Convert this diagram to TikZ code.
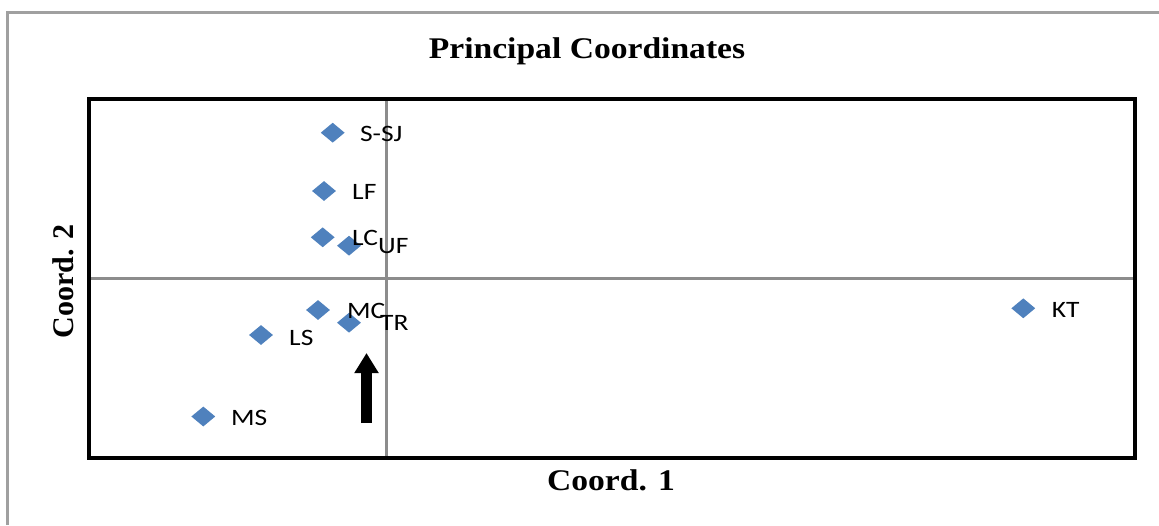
\documentclass[tikz,border=0pt]{standalone}
\usepackage{fontspec}
\setmainfont{Liberation Serif}
\newfontfamily\labfont{Carlito}
\usetikzlibrary{shapes.geometric,arrows.meta}
\definecolor{ptblue}{HTML}{4F81BD}
\definecolor{axgray}{HTML}{8C8C8C}
\definecolor{framegray}{HTML}{A0A0A0}
\tikzset{
  pt/.style={diamond,fill=ptblue,draw=none,inner sep=0pt,minimum width=24pt,minimum height=20pt},
  lab/.style={anchor=base west,inner sep=0pt,font=\labfont\fontsize{23.5}{23.5}\selectfont},
  ttl/.style={inner sep=0pt,font=\bfseries\fontsize{30}{30}\selectfont},
}
\newcommand{\hsx}[1]{\scalebox{1.17}[1]{#1}}
\newcommand{\tsx}[1]{\scalebox{1.12}[1]{#1}}
\begin{document}
\begin{tikzpicture}[x=1pt,y=-1pt]
\useasboundingbox (0,0) rectangle (1159,525);
% outer frame
\draw[framegray,line width=3pt] (7.5,525) -- (7.5,12) -- (1159,12);
% axes
\draw[axgray,line width=3pt] (89,278.5) -- (1135,278.5);
\draw[axgray,line width=3pt] (386.5,99) -- (386.5,458);
% plot box
\draw[black,line width=3.5pt] (89,99) rectangle (1135,458);
% title and axis titles
\node[ttl,anchor=base] (title) at (587,58) {\tsx{Principal Coordinates}};
\node[ttl,anchor=base] (xt) at (611,490) {\tsx{Coord. 1}};
\node[ttl,anchor=base,rotate=90] (yt) at (73,281.5) {Coord. 2};
% points
\node[pt] (pssj) at (332.7,132.7) {};
\node[pt] (plf) at (324,191) {};
\node[pt] (plc) at (322.7,237.3) {};
\node[pt] (puf) at (349,245.7) {};
\node[pt] (pmc) at (318,310) {};
\node[pt] (ptr) at (349,322.7) {};
\node[pt] (pls) at (261,335) {};
\node[pt] (pms) at (203.3,416.5) {};
\node[pt] (pkt) at (1023.3,308.3) {};
% labels
\node[lab] (lssj) at (360,141) {\hsx{S-SJ}};
\node[lab] (llf) at (352,199) {\hsx{LF}};
\node[lab] (llc) at (352,245) {\hsx{LC}};
\node[lab] (luf) at (378,253) {\hsx{UF}};
\node[lab] (lmc) at (347,318) {\hsx{MC}};
\node[lab] (ltr) at (380,330.7) {\hsx{TR}};
\node[lab] (lls) at (289,345) {\hsx{LS}};
\node[lab] (lms) at (231,425) {\hsx{MS}};
\node[lab] (lkt) at (1051.7,317) {\hsx{KT}};
% arrow
\coordinate (abot) at (366.5,423);
\coordinate (atop) at (366.5,353);
\draw[black,line width=11.5pt,-{Triangle[length=20pt,width=23pt]}] (abot) -- (atop);
\end{tikzpicture}
\end{document}
